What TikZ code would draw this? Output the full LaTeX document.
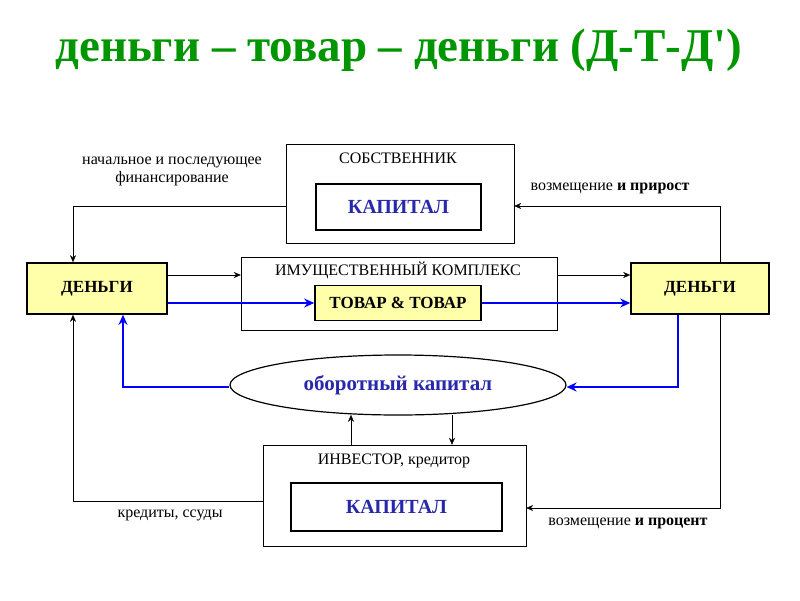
\documentclass[tikz,border=0pt]{standalone}
\usepackage{fontspec}
\setmainfont{Liberation Serif}
\usetikzlibrary{arrows.meta,shapes.geometric}
\definecolor{tgreen}{RGB}{0,150,0}
\definecolor{tblue}{RGB}{40,40,170}
\definecolor{ylw}{RGB}{255,255,170}
\begin{document}
\begin{tikzpicture}[x=1pt,y=-1pt,
 outer/.style={draw,thin},
 inner/.style={draw,line width=1.6pt},
 lbl/.style={font=\fontsize{16}{18}\selectfont,inner sep=0},
 thinarr/.style={-{Stealth[length=7pt,width=6pt]},thin},
 bluearr/.style={-{Stealth[length=10pt,width=9pt]},line width=2pt,blue}]
\useasboundingbox (0,0) rectangle (800,600);
\node[font=\bfseries\fontsize{47}{50}\selectfont,text=tgreen] (title) at (399,50) {деньги – товар – деньги (Д-Т-Д\textquotesingle)};
\node[outer,minimum width=228,minimum height=99] (own) at (400,193.5) {};
\node[lbl] (ownt) at (398,158) {СОБСТВЕННИК};
\node[inner,minimum width=165,minimum height=46,font=\bfseries\fontsize{20}{22}\selectfont,text=tblue] (cap1) at (398.5,207) {КАПИТАЛ};
\node[outer,minimum width=316,minimum height=73] (prop) at (399,293.5) {};
\node[lbl] (propt) at (398,270) {ИМУЩЕСТВЕННЫЙ КОМПЛЕКС};
\node[inner,fill=ylw,minimum width=166,minimum height=35,font=\bfseries\fontsize{17}{19}\selectfont] (tov) at (398,303) {ТОВАР \& ТОВАР};
\node[inner,fill=ylw,minimum width=140,minimum height=51,font=\bfseries\fontsize{17}{19}\selectfont] (dl) at (97,288.5) {ДЕНЬГИ};
\node[inner,fill=ylw,minimum width=138,minimum height=51,font=\bfseries\fontsize{17}{19}\selectfont] (dr) at (700,288.5) {ДЕНЬГИ};
\node[ellipse,draw,line width=1.2pt,minimum width=336,minimum height=60,font=\bfseries\fontsize{21}{23}\selectfont,text=tblue] (ell) at (398,385) {оборотный капитал};
\node[outer,minimum width=263,minimum height=101] (inv) at (394.5,495.5) {};
\node[lbl] (invt) at (394,461) {ИНВЕСТОР, кредитор};
\node[inner,minimum width=211,minimum height=48,font=\bfseries\fontsize{20}{22}\selectfont,text=tblue] (cap2) at (396.5,507) {КАПИТАЛ};
\node[lbl,align=center] (l1) at (172,171) {начальное и последующее\\финансирование};
\node[lbl] (l2) at (610,188) {возмещение \textbf{и прирост}};
\node[lbl] (l3) at (170,515) {кредиты, ссуды};
\node[lbl] (l4) at (628,523) {возмещение \textbf{и процент}};
\coordinate (a1) at (73,206);
\coordinate (a2) at (720,206);
\coordinate (a3) at (720,508);
\coordinate (a4) at (73,501);
\draw[thinarr] (own.west |- a1) -- (a1) -- (dl.north -| a1);
\draw[thinarr] (dr.north -| a2) -- (a2) -- (own.east |- a2);
\draw[thinarr] (dr.south -| a3) -- (a3) -- (inv.east |- a3);
\draw[thinarr] (inv.west |- a4) -- (a4) -- (dl.south -| a4);
\draw[thinarr] (dl.east |- 0,275) -- (prop.west |- 0,275);
\draw[thinarr] (prop.east |- 0,275) -- (dr.west |- 0,275);
\draw[thinarr] (ell.south -| 452,0) ++(0,-1) -- (inv.north -| 452,0);
\draw[thinarr] (inv.north -| 351,0) -- ++(0,-30);
\draw[bluearr] (dl.east |- tov) -- (tov.west);
\draw[bluearr] (tov.east) -- (dr.west |- tov);
\coordinate (b1) at (678,387);
\coordinate (b2) at (123,387);
\draw[bluearr] (dr.south -| b1) -- (b1) -- (ell.east |- b1);
\draw[bluearr] (ell.west |- b2) -- (b2) -- (dl.south -| b2);
\end{tikzpicture}
\end{document}
